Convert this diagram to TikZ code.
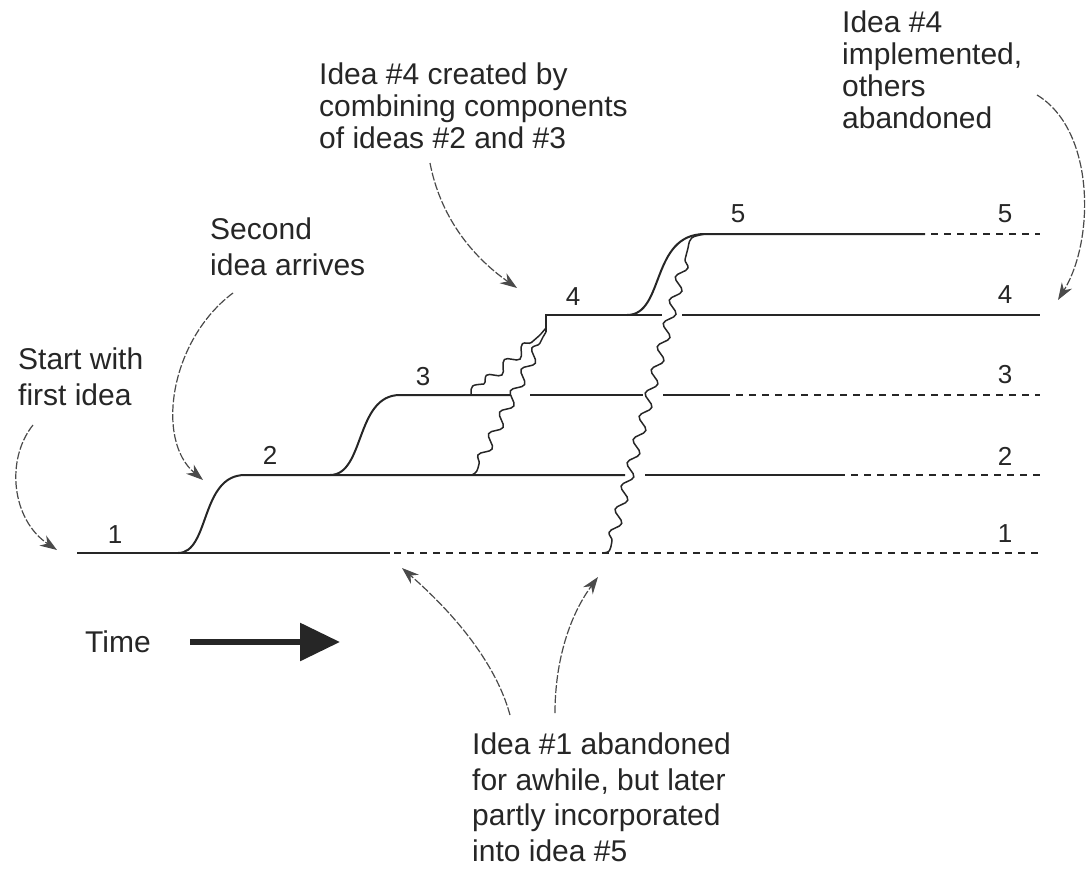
\documentclass[tikz,border=0pt]{standalone}
\usepackage{fontspec}
\setmainfont{Liberation Sans}
\usetikzlibrary{arrows.meta,decorations.pathmorphing}
\definecolor{ink}{HTML}{262626}
\definecolor{arrowink}{HTML}{4A4A4A}
\tikzset{
  idealine/.style={draw=ink, line width=2pt},
  laterline/.style={draw=ink, line width=1.8pt, dash pattern=on 7pt off 6pt},
  wave/.style={draw=ink, line width=1.5pt, decorate, decoration={snake, amplitude=5pt, segment length=24pt}},
  plainwave/.style={draw=ink, line width=1.5pt},
  callout/.style={draw=arrowink, line width=1.2pt, dash pattern=on 8pt off 2pt, -{Stealth[length=17pt,width=12pt]}},
  lbl/.style={font=\fontsize{26}{30}\selectfont, text=ink, inner sep=0},
  txt/.style={font=\fontsize{30}{37}\selectfont, text=ink, align=left, anchor=north west, inner sep=0},
  timearrow/.style={draw=ink, line width=6pt, -{Triangle[length=40pt,width=37pt]}}
}
\begin{document}
\begin{tikzpicture}[x=1pt,y=-1pt]
\useasboundingbox (0,0) rectangle (1090,870);

% ---------- text blocks ----------
\node[txt, font=\fontsize{30}{32}\selectfont] (tIdeaFour) at (319,63) {Idea \#4 created by\\combining components\\of ideas \#2 and \#3};
\node[txt, font=\fontsize{30}{32}\selectfont] (tImpl) at (842,11) {Idea \#4\\implemented,\\others\\abandoned};
\node[txt, font=\fontsize{30}{36}\selectfont] (tSecond) at (210,218) {Second\\idea arrives};
\node[txt, font=\fontsize{30}{35.5}\selectfont] (tStart) at (18,348) {Start with\\first idea};
\node[txt] (tTime) at (85,631) {Time};
\node[txt, font=\fontsize{30}{35.5}\selectfont] (tAband) at (472,733) {Idea \#1 abandoned\\for awhile, but later\\partly incorporated\\into idea \#5};

% ---------- line labels ----------
\node[lbl] (l1) at (115,535) {1};
\node[lbl] (l2) at (270,455) {2};
\node[lbl] (l3) at (423,377) {3};
\node[lbl] (l4) at (573,297) {4};
\node[lbl] (l5) at (738,214) {5};
\node[lbl] (r5) at (1005,214) {5};
\node[lbl] (r4) at (1005,295) {4};
\node[lbl] (r3) at (1005,375) {3};
\node[lbl] (r2) at (1005,456) {2};
\node[lbl] (r1) at (1005,534) {1};

% ---------- idea 1 ----------
\draw[idealine] (77,553) -- (390,553);
\draw[laterline] (394,553) -- (1040,553);

% ---------- idea 2 ----------
\draw[idealine] (178,553) .. controls (210,553) and (200,475) .. (245,475) -- (625,475);
\draw[idealine] (645,475) -- (845,475);
\draw[laterline] (851,475) -- (1040,475);

% ---------- idea 3 ----------
\draw[idealine] (330,475) .. controls (365,475) and (355,395) .. (400,395) -- (510,395);
\draw[idealine] (530,395) -- (643,395);
\draw[idealine] (663,395) -- (730,395);
\draw[laterline] (736,395) -- (1040,395);

% ---------- idea 4 ----------
\draw[idealine] (546,332) -- (546,315) -- (662,315);
\draw[idealine] (682,315) -- (1040,315);
% wavy components of ideas 2 and 3
\draw[plainwave] (471,395) .. controls (471,385) .. (484,384);
\draw[wave] (484,384) -- (540,335);
\draw[plainwave] (540,335) -- (546,328);
\draw[plainwave] (472,475) .. controls (477,472) .. (479,464);
\draw[wave] (479,464) -- (543,337);
\draw[plainwave] (543,337) -- (546,332);

% ---------- idea 5 ----------
\draw[idealine] (627,315) .. controls (665,315) and (650,234) .. (705,234) -- (925,234);
\draw[laterline] (931,234) -- (1040,234);
% wavy component of idea 1
\draw[plainwave] (603,553) .. controls (610,552) .. (612,541);
\draw[wave] (612,541) -- (688,248);
\draw[plainwave] (688,248) .. controls (690,237) .. (705,234);

% ---------- time arrow ----------
\coordinate (tA) at (190,642);
\coordinate (tB) at (340,642);
\draw[timearrow] (tA) -- (tB);

% ---------- callout arrows ----------
\coordinate (s1) at (33,425);  \coordinate (e1) at (57,550);
\coordinate (s2) at (233,293); \coordinate (e2) at (203,480);
\coordinate (s3) at (430,163); \coordinate (e3) at (517,288);
\coordinate (s4) at (1037,95); \coordinate (e4) at (1058,300);
\coordinate (s5) at (510,715); \coordinate (e5) at (402,568);
\coordinate (s6) at (555,713); \coordinate (e6) at (598,577);
\draw[callout] (s1) .. controls (5,460) and (12,520) .. (e1);
\draw[callout] (s2) .. controls (170,340) and (155,440) .. (e2);
\draw[callout] (s3) .. controls (440,215) and (470,255) .. (e3);
\draw[callout] (s4) .. controls (1095,130) and (1095,240) .. (e4);
\draw[callout] (s5) .. controls (495,660) and (450,610) .. (e5);
\draw[callout] (s6) .. controls (555,660) and (570,615) .. (e6);
\end{tikzpicture}
\end{document}
